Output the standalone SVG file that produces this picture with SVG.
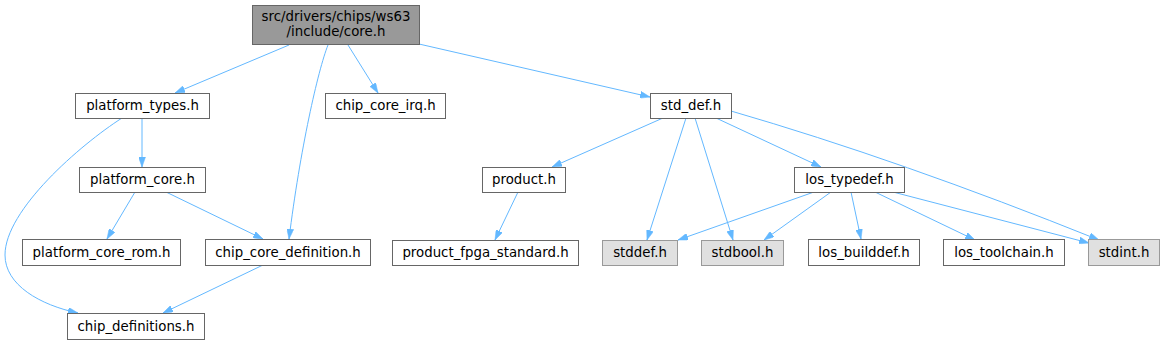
<svg xmlns="http://www.w3.org/2000/svg" width="1165" height="344" viewBox="0 0 1165 344">
<style>
.n rect{fill:#ffffff;stroke:#666666;stroke-width:1}
.n.root rect{fill:#999999;stroke:#666666}
.n.sys rect{fill:#e0e0e0;stroke:#999999}
.n text{font-family:"DejaVu Sans",sans-serif;font-size:13.33px;fill:#000000;text-anchor:middle}
.e path{fill:none;stroke:#63b8ff;stroke-width:1;marker-end:url(#ah)}
</style>
<defs>
<marker id="ah" viewBox="0 0 10 7" refX="10" refY="3.5" markerWidth="10" markerHeight="7" markerUnits="userSpaceOnUse" orient="auto">
<path d="M0,0 L10,3.5 L0,7 z" fill="#63b8ff" stroke="#63b8ff" stroke-width="0.5"/>
</marker>
</defs>
<rect width="1165" height="344" fill="#ffffff"/>
<g id="edges" class="e">
<path d="M289,45 L175,93"/>
<path d="M328,45 C318,70 300,150 289,239"/>
<path d="M348,45 L378,93"/>
<path d="M419,44 L650,97"/>
<path d="M142,118 L142,167"/>
<path d="M122,118 C80,145 5,210 5,255 C5,285 40,305 78,313"/>
<path d="M135,192 L107,239"/>
<path d="M166,192 L263,239"/>
<path d="M263,265 L163,313"/>
<path d="M663,118 L552,167"/>
<path d="M686,118 L647,240"/>
<path d="M695,118 L733,240"/>
<path d="M716,118 L821,167"/>
<path d="M731,111 Q900,160 1099,240"/>
<path d="M814,192 L678,240"/>
<path d="M831,192 L764,240"/>
<path d="M851,192 L861,239"/>
<path d="M875,192 L975,240"/>
<path d="M893,192 L1089,243"/>
<path d="M518,192 L495,240"/>
</g>
<g id="root" class="n root"><rect x="252.5" y="5.5" width="167" height="39"/><text x="336" y="21">src/drivers/chips/ws63</text><text x="336" y="36">/include/core.h</text></g>
<g id="platform_types" class="n"><rect x="75.5" y="93.5" width="134" height="25"/><text x="142.5" y="110">platform_types.h</text></g>
<g id="chip_core_irq" class="n"><rect x="325.5" y="93.5" width="120" height="25"/><text x="385.5" y="110">chip_core_irq.h</text></g>
<g id="std_def" class="n"><rect x="650.5" y="93.5" width="81" height="25"/><text x="691" y="110">std_def.h</text></g>
<g id="platform_core" class="n"><rect x="79.5" y="167.5" width="126" height="25"/><text x="142.5" y="184">platform_core.h</text></g>
<g id="product" class="n"><rect x="482.5" y="167.5" width="83" height="25"/><text x="524" y="184">product.h</text></g>
<g id="los_typedef" class="n"><rect x="794.5" y="167.5" width="110" height="25"/><text x="849.5" y="184">los_typedef.h</text></g>
<g id="platform_core_rom" class="n"><rect x="22.5" y="239.5" width="158" height="26"/><text x="101.5" y="256.5">platform_core_rom.h</text></g>
<g id="chip_core_definition" class="n"><rect x="205.5" y="239.5" width="165" height="26"/><text x="288" y="256.5">chip_core_definition.h</text></g>
<g id="product_fpga_standard" class="n"><rect x="392.5" y="240.5" width="186" height="25"/><text x="485.5" y="257">product_fpga_standard.h</text></g>
<g id="stddef" class="n sys"><rect x="602.5" y="240.5" width="75" height="25"/><text x="640" y="257">stddef.h</text></g>
<g id="stdbool" class="n sys"><rect x="701.5" y="240.5" width="82" height="25"/><text x="742.5" y="257">stdbool.h</text></g>
<g id="los_builddef" class="n"><rect x="808.5" y="239.5" width="111" height="26"/><text x="864" y="256.5">los_builddef.h</text></g>
<g id="los_toolchain" class="n"><rect x="943.5" y="239.5" width="121" height="26"/><text x="1004" y="256.5">los_toolchain.h</text></g>
<g id="stdint" class="n sys"><rect x="1088.5" y="239.5" width="71" height="26"/><text x="1124" y="256.5">stdint.h</text></g>
<g id="chip_definitions" class="n"><rect x="67.5" y="313.5" width="137" height="26"/><text x="136" y="330.5">chip_definitions.h</text></g>
</svg>
